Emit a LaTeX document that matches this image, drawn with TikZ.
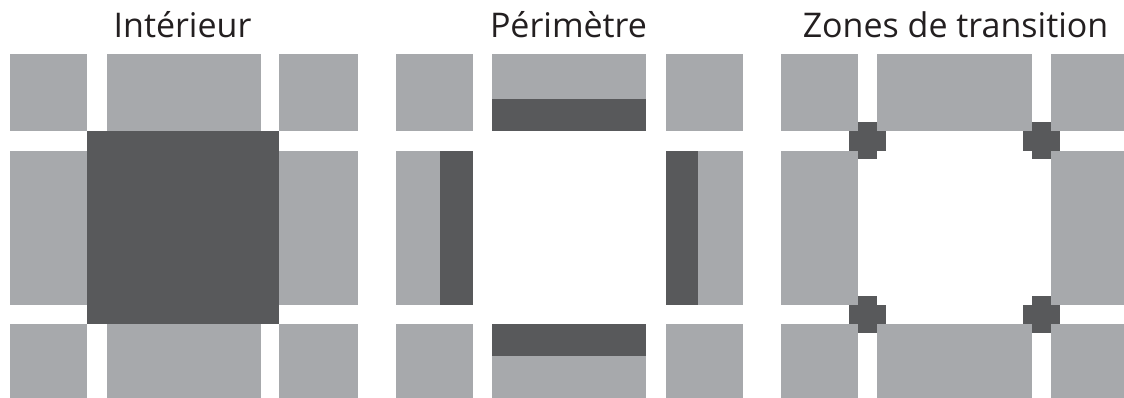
\documentclass[tikz,border=0pt]{standalone}
\usepackage{fontspec}
\setmainfont{Open Sans}
\definecolor{lightg}{HTML}{A7A9AC}
\definecolor{darkg}{HTML}{58595B}
\definecolor{txt}{HTML}{231F20}
\begin{document}
\begin{tikzpicture}[x=1pt,y=-1pt,
  light/.style={fill=lightg},
  dark/.style={fill=darkg},
  title/.style={anchor=base,inner sep=0pt,text=txt,font=\fontsize{34}{40}\selectfont}]
\useasboundingbox (0,0) rectangle (1124,398);
\fill[white] (0,0) rectangle (1124,398);
% grid of light blocks for each panel (centre cell left empty)
\foreach \xa/\xb/\c in {10/87/0,107/261/1,279/358/0,396/473/0,492/646/1,666/743/0,781/858/0,877/1032/1,1051/1124/0}{
  \foreach \ya/\yb/\r in {54/131/0,151/305/1,324/398/0}{
    \pgfmathtruncatemacro{\mid}{\c*\r}
    \ifnum\mid=0
      \fill[light] (\xa,\ya) rectangle (\xb,\yb);
    \fi
  }
}
% Panel 1: interior
\fill[dark] (87,131) rectangle (279,324);
% Panel 2: perimeter
\fill[dark] (492,99) rectangle (646,131);
\fill[dark] (492,324) rectangle (646,356);
\fill[dark] (440,151) rectangle (473,305);
\fill[dark] (666,151) rectangle (698,305);
% Panel 3: transition crosses
\foreach \cx/\xa/\xb in {867.5/858/877,1041.5/1032/1051}{
  \foreach \cy/\ya/\yb in {141/131/151,314.5/305/324}{
    \fill[dark] (\xa,\cy-18.5) rectangle (\xb,\cy+18.5);
    \fill[dark] (\cx-18.5,\ya) rectangle (\cx+18.5,\yb);
  }
}
\node[title] (t1) at (182.5,38) {Intérieur};
\node[title] (t2) at (568.5,38) {Périmètre};
\node[title] (t3) at (955.5,38) {Zones de transition};
\end{tikzpicture}
\end{document}
